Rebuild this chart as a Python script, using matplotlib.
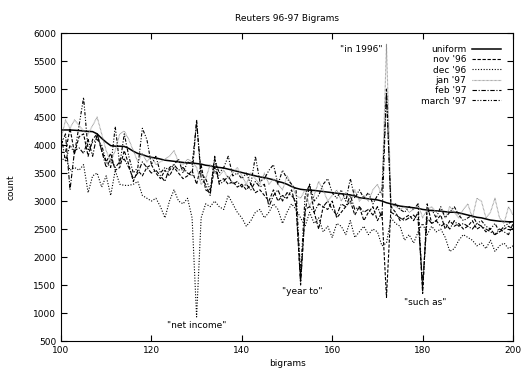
import matplotlib
matplotlib.use('agg')
import matplotlib.pyplot as plt
import numpy as np

# bigram rank 100..200
bigrams = list(range(100, 201))

uniform = [4270, 4270, 4270, 4265, 4260, 4250, 4245, 4240, 4200, 4120,
           4050, 3990, 3980, 3980, 3975, 3940, 3890, 3850, 3830, 3800,
           3780, 3770, 3750, 3730, 3720, 3710, 3700, 3690, 3680, 3680,
           3670, 3660, 3640, 3630, 3610, 3600, 3590, 3570, 3550, 3530,
           3510, 3490, 3470, 3450, 3430, 3420, 3400, 3380, 3350, 3330,
           3300, 3260, 3230, 3210, 3200, 3195, 3190, 3180, 3170, 3160,
           3150, 3140, 3130, 3120, 3110, 3090, 3060, 3050, 3040, 3030,
           3020, 3000, 2970, 2950, 2930, 2910, 2900, 2890, 2880, 2870,
           2850, 2840, 2830, 2825, 2820, 2810, 2800, 2800, 2790, 2770,
           2750, 2730, 2710, 2700, 2680, 2660, 2650, 2640, 2635, 2630,
           2630]

nov96 = [3870, 3870, 4300, 3850, 4150, 4200, 3800, 4100, 4200, 3900,
         3700, 3850, 3550, 3600, 3900, 3650, 3350, 3550, 3450, 3600,
         3650, 3500, 3400, 3550, 3450, 3600, 3500, 3400, 3450, 3550,
         3300, 3650, 3200, 3150, 3600, 3350, 3400, 3300, 3350, 3250,
         3300, 3200, 3300, 3150, 3200, 3100, 3000, 3200, 3000, 3100,
         3050, 3200, 2900, 1550, 2800, 3300, 2800, 2500, 2900, 2850,
         3000, 2700, 2800, 2900, 3000, 2750, 2900, 2650, 2800, 2900,
         2650, 2800, 1280, 2900, 2800, 2650, 2700, 2750, 2650, 2800,
         1350, 2950, 2600, 2650, 2750, 2500, 2650, 2550, 2600, 2500,
         2550, 2650, 2500, 2550, 2450, 2500, 2400, 2450, 2500, 2550,
         2500]

dec96 = [3700, 3800, 3550, 3600, 3550, 3650, 3150, 3450, 3500, 3250,
         3450, 3100, 3550, 3300, 3280, 3280, 3300, 3350, 3100, 3050,
         3000, 3050, 2900, 2700, 3000, 3200, 3000, 2950, 3050, 2700,
         930, 2700, 2950, 2900, 3000, 2900, 2850, 3100, 2950, 2800,
         2700, 2550, 2650, 2800, 2850, 2700, 2800, 2950, 2850, 2600,
         2800, 2950, 2850, 2700, 2550, 2800, 2600, 2700, 2450, 2550,
         2350, 2600, 2550, 2400, 2650, 2350, 2450, 2550, 2400, 2500,
         2450, 2200, 2250, 2700, 2600, 2550, 2300, 2400, 2250, 2450,
         2600, 2400, 2550, 2450, 2500, 2350, 2100, 2150, 2300, 2400,
         2350, 2300, 2200, 2250, 2150, 2300, 2100, 2200, 2250, 2150,
         2200]

jan97 = [4100, 4450, 4300, 4450, 4350, 4250, 4200, 4350, 4500, 4200,
         3900, 3700, 3900, 4200, 4250, 4100, 3900, 3700, 3850, 3700,
         3800, 3650, 3700, 3750, 3800, 3900, 3700, 3650, 3750, 3700,
         3600, 3300, 3400, 3650, 3500, 3450, 3550, 3400, 3500, 3600,
         3450, 3300, 3500, 3400, 3300, 3500, 3300, 3400, 3300, 3200,
         3450, 3300, 3100, 3050, 3200, 2900, 3100, 3350, 3200, 3000,
         3100, 3200, 3000, 3150, 2950, 3200, 3000, 3100, 3000, 3200,
         3300, 3100, 5800, 2950, 2900, 2850, 2900, 2800, 2850, 2950,
         2700, 2850, 2900, 2800, 2850, 2700, 2900, 2800, 2700, 2850,
         2950, 2700, 3050, 3000, 2700, 2800, 3050, 2700, 2600, 2900,
         2750]

feb97 = [4000, 4200, 3200, 3900, 3950, 3850, 4100, 3800, 4200, 3900,
         3600, 3750, 3600, 3700, 3750, 3600, 3400, 3500, 3700, 3600,
         3500, 3550, 3450, 3350, 3600, 3650, 3550, 3600, 3500, 3450,
         4450, 3400, 3300, 3100, 3800, 3300, 3350, 3450, 3300, 3350,
         3250, 3300, 3200, 3350, 3250, 3300, 2900, 3100, 3200, 3000,
         3150, 3100, 3000, 1500, 2850, 2900, 2800, 2950, 2900, 3000,
         2850, 2750, 2950, 2900, 3100, 2850, 2900, 2800, 2850, 2750,
         2900, 2700, 5000, 2800, 2750, 2700, 2650, 2700, 2750, 2650,
         1500, 2700, 2600, 2650, 2550, 2600, 2500, 2650, 2550, 2600,
         2550, 2500, 2600, 2550, 2500, 2450, 2400, 2500, 2450, 2400,
         2600]

mar97 = [4200, 3700, 4000, 3850, 4350, 4850, 3900, 4050, 4100, 4000,
         3700, 3600, 4330, 3650, 4200, 3800, 3500, 3600, 4300, 4100,
         3650, 3800, 3500, 3600, 3550, 3650, 3750, 3500, 3700, 3650,
         4400, 3500, 3400, 3200, 3750, 3500, 3600, 3800, 3450, 3500,
         3400, 3500, 3300, 3800, 3350, 3400, 3550, 3650, 3300, 3550,
         3400, 3300, 3200, 1700, 3100, 3300, 3000, 3100, 3300, 3400,
         3150, 3050, 3200, 3000, 3400, 3050, 3200, 3050, 3150, 2950,
         3100, 3200, 4900, 2900, 2950, 2850, 2800, 2900, 2850, 2950,
         1400, 2800, 2850, 2700, 2900, 2700, 2800, 2900, 2750, 2650,
         2700, 2750, 2600, 2650, 2550, 2500, 2600, 2450, 2550, 2600,
         2650]

fig = plt.figure(figsize=(5.23, 3.72), dpi=100)
ax = fig.add_axes([0.1166, 0.0833, 0.8644, 0.8277])

ax.plot(bigrams, uniform, color='black', lw=1.1, label='uniform')
ax.plot(bigrams, nov96, color='black', lw=0.8, dashes=(3, 1.5), label="nov '96")
ax.plot(bigrams, dec96, color='black', lw=0.8, dashes=(1, 1.5), label="dec '96")
ax.plot(bigrams, jan97, color='#888888', lw=0.8, dashes=(0.6, 0.6), label="jan '97")
ax.plot(bigrams, feb97, color='black', lw=0.8, dashes=(4, 1.5, 1, 1.5), label="feb '97")
ax.plot(bigrams, mar97, color='black', lw=0.8, dashes=(3, 1.5, 1, 1.5, 1, 1.5), label="march '97")

ax.set_xlim(100, 200)
ax.set_ylim(500, 6000)
ax.set_xticks(range(100, 201, 20))
ax.set_yticks(range(500, 6001, 500))
ax.tick_params(direction='in', top=True, right=True, labelsize=6.5, length=4)
for s in ax.spines.values():
    s.set_linewidth(0.8)

ax.set_title('Reuters 96-97 Bigrams', fontsize=6.5, pad=9)
ax.set_xlabel('bigrams', fontsize=6.5, labelpad=3)
ax.set_ylabel('count', fontsize=6.5, labelpad=13)

fs = 6.5
ax.text(130.1, 770, '"net income"', fontsize=fs, ha='center', va='center')
ax.text(153.3, 1390, '"year to"', fontsize=fs, ha='center', va='center')
ax.text(166.4, 5700, '"in 1996"', fontsize=fs, ha='center', va='center')
ax.text(180.5, 1180, '"such as"', fontsize=fs, ha='center', va='center')

ax.legend(loc='upper right', frameon=False, markerfirst=False, fontsize=6.5,
          handlelength=3.3, labelspacing=0.15, handletextpad=0.6,
          borderaxespad=0.9)

fig.savefig('out.png', dpi=100)
